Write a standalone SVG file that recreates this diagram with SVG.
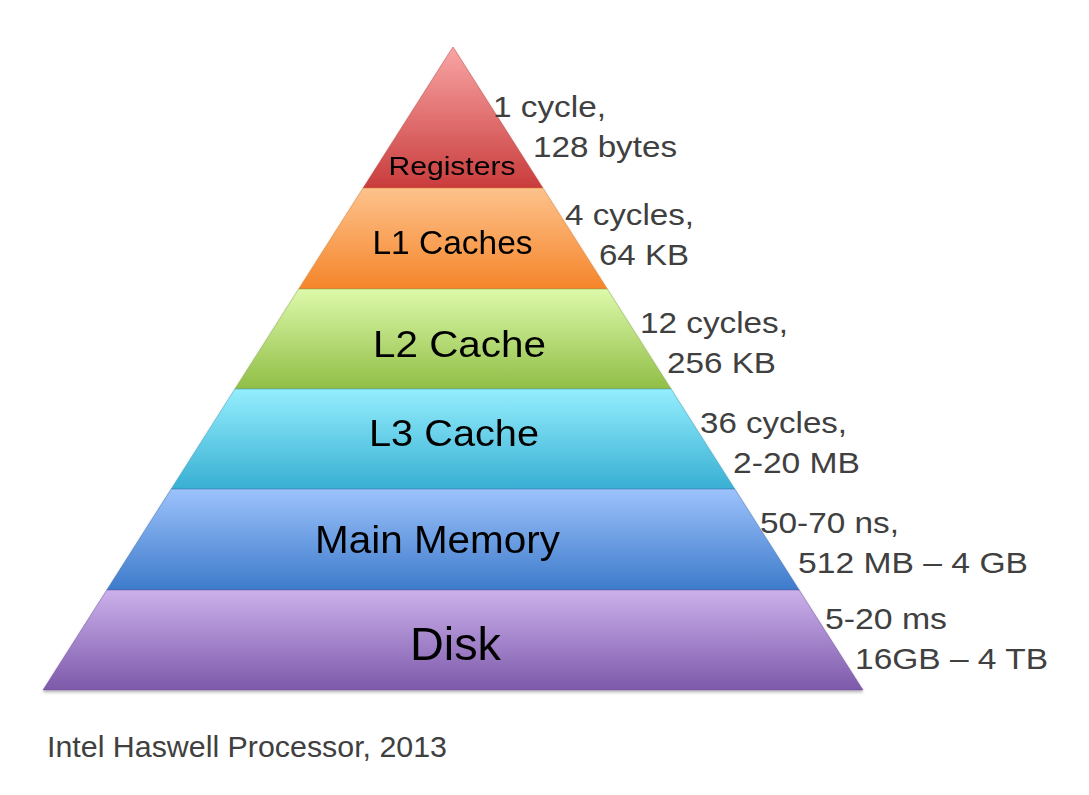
<svg xmlns="http://www.w3.org/2000/svg" width="1089" height="795" viewBox="0 0 1089 795">
<style>
.lbl{font-family:"Liberation Sans",Arial,sans-serif;fill:#000;text-anchor:middle}
.note{font-family:"Liberation Sans",Arial,sans-serif;fill:#404040;font-size:30px}
.cap{font-family:"Liberation Sans",Arial,sans-serif;fill:#404040;font-size:29px}
.layer{stroke-width:1}
</style>
<defs>
<linearGradient id="gReg" x1="0" y1="0" x2="0" y2="1"><stop offset="0" stop-color="#f9a5a5"/><stop offset="1" stop-color="#c93c3c"/></linearGradient>
<linearGradient id="gL1" x1="0" y1="0" x2="0" y2="1"><stop offset="0" stop-color="#fdc28c"/><stop offset="1" stop-color="#f5852a"/></linearGradient>
<linearGradient id="gL2" x1="0" y1="0" x2="0" y2="1"><stop offset="0" stop-color="#ddf9aa"/><stop offset="1" stop-color="#90be46"/></linearGradient>
<linearGradient id="gL3" x1="0" y1="0" x2="0" y2="1"><stop offset="0" stop-color="#94eefd"/><stop offset="1" stop-color="#38afd3"/></linearGradient>
<linearGradient id="gMM" x1="0" y1="0" x2="0" y2="1"><stop offset="0" stop-color="#9cc2fb"/><stop offset="1" stop-color="#3d7bcb"/></linearGradient>
<linearGradient id="gDisk" x1="0" y1="0" x2="0" y2="1"><stop offset="0" stop-color="#cbb1ec"/><stop offset="1" stop-color="#7d59aa"/></linearGradient>
<filter id="sh" x="-5%" y="-5%" width="110%" height="115%"><feDropShadow dx="0" dy="2" stdDeviation="1.5" flood-color="#000" flood-opacity="0.3"/></filter>
</defs>
<rect width="1089" height="795" fill="#fff"/>
<g id="pyramid" filter="url(#sh)">
<g id="registers">
<polygon class="layer" points="453,47 542.9,188 363.1,188" fill="url(#gReg)" stroke="#b84444" stroke-opacity="0.5"/>
<text class="lbl" x="452" y="175" font-size="26" textLength="127" lengthAdjust="spacingAndGlyphs">Registers</text>
</g>
<g id="l1">
<polygon class="layer" points="363.1,188 542.9,188 607.3,289 298.7,289" fill="url(#gL1)" stroke="#d97a2a" stroke-opacity="0.5"/>
<text class="lbl" x="452.5" y="254" font-size="33" textLength="160" lengthAdjust="spacingAndGlyphs">L1 Caches</text>
</g>
<g id="l2">
<polygon class="layer" points="298.7,289 607.3,289 671.1,389 234.9,389" fill="url(#gL2)" stroke="#86a848" stroke-opacity="0.5"/>
<text class="lbl" x="459.5" y="357" font-size="37" textLength="173" lengthAdjust="spacingAndGlyphs">L2 Cache</text>
</g>
<g id="l3">
<polygon class="layer" points="234.9,389 671.1,389 734.8,489 171.2,489" fill="url(#gL3)" stroke="#3a9cbc" stroke-opacity="0.5"/>
<text class="lbl" x="454" y="446" font-size="36" textLength="170" lengthAdjust="spacingAndGlyphs">L3 Cache</text>
</g>
<g id="main-memory">
<polygon class="layer" points="171.2,489 734.8,489 799.2,590 106.8,590" fill="url(#gMM)" stroke="#3a6cb0" stroke-opacity="0.5"/>
<text class="lbl" x="437.5" y="553" font-size="38" textLength="245" lengthAdjust="spacingAndGlyphs">Main Memory</text>
</g>
<g id="disk">
<polygon class="layer" points="106.8,590 799.2,590 863,690 43,690" fill="url(#gDisk)" stroke="#6e5096" stroke-opacity="0.5"/>
<text class="lbl" x="455.5" y="660" font-size="46" textLength="91" lengthAdjust="spacingAndGlyphs">Disk</text>
</g>
</g>
<g id="notes">
<text class="note" x="493" y="117" textLength="113" lengthAdjust="spacingAndGlyphs">1 cycle,</text>
<text class="note" x="533" y="157" textLength="144" lengthAdjust="spacingAndGlyphs">128 bytes</text>
<text class="note" x="565" y="225" textLength="129" lengthAdjust="spacingAndGlyphs">4 cycles,</text>
<text class="note" x="599" y="265" textLength="90" lengthAdjust="spacingAndGlyphs">64 KB</text>
<text class="note" x="640" y="333" textLength="148" lengthAdjust="spacingAndGlyphs">12 cycles,</text>
<text class="note" x="667" y="373" textLength="109" lengthAdjust="spacingAndGlyphs">256 KB</text>
<text class="note" x="700" y="433" textLength="147" lengthAdjust="spacingAndGlyphs">36 cycles,</text>
<text class="note" x="733" y="473" textLength="127" lengthAdjust="spacingAndGlyphs">2-20 MB</text>
<text class="note" x="760" y="533" textLength="139" lengthAdjust="spacingAndGlyphs">50-70 ns,</text>
<text class="note" x="798" y="573" textLength="230" lengthAdjust="spacingAndGlyphs">512 MB – 4 GB</text>
<text class="note" x="825" y="629" textLength="122" lengthAdjust="spacingAndGlyphs">5-20 ms</text>
<text class="note" x="855" y="669" textLength="193" lengthAdjust="spacingAndGlyphs">16GB – 4 TB</text>
</g>
<text id="caption" class="cap" x="47" y="757" textLength="400" lengthAdjust="spacingAndGlyphs">Intel Haswell Processor, 2013</text>
</svg>
